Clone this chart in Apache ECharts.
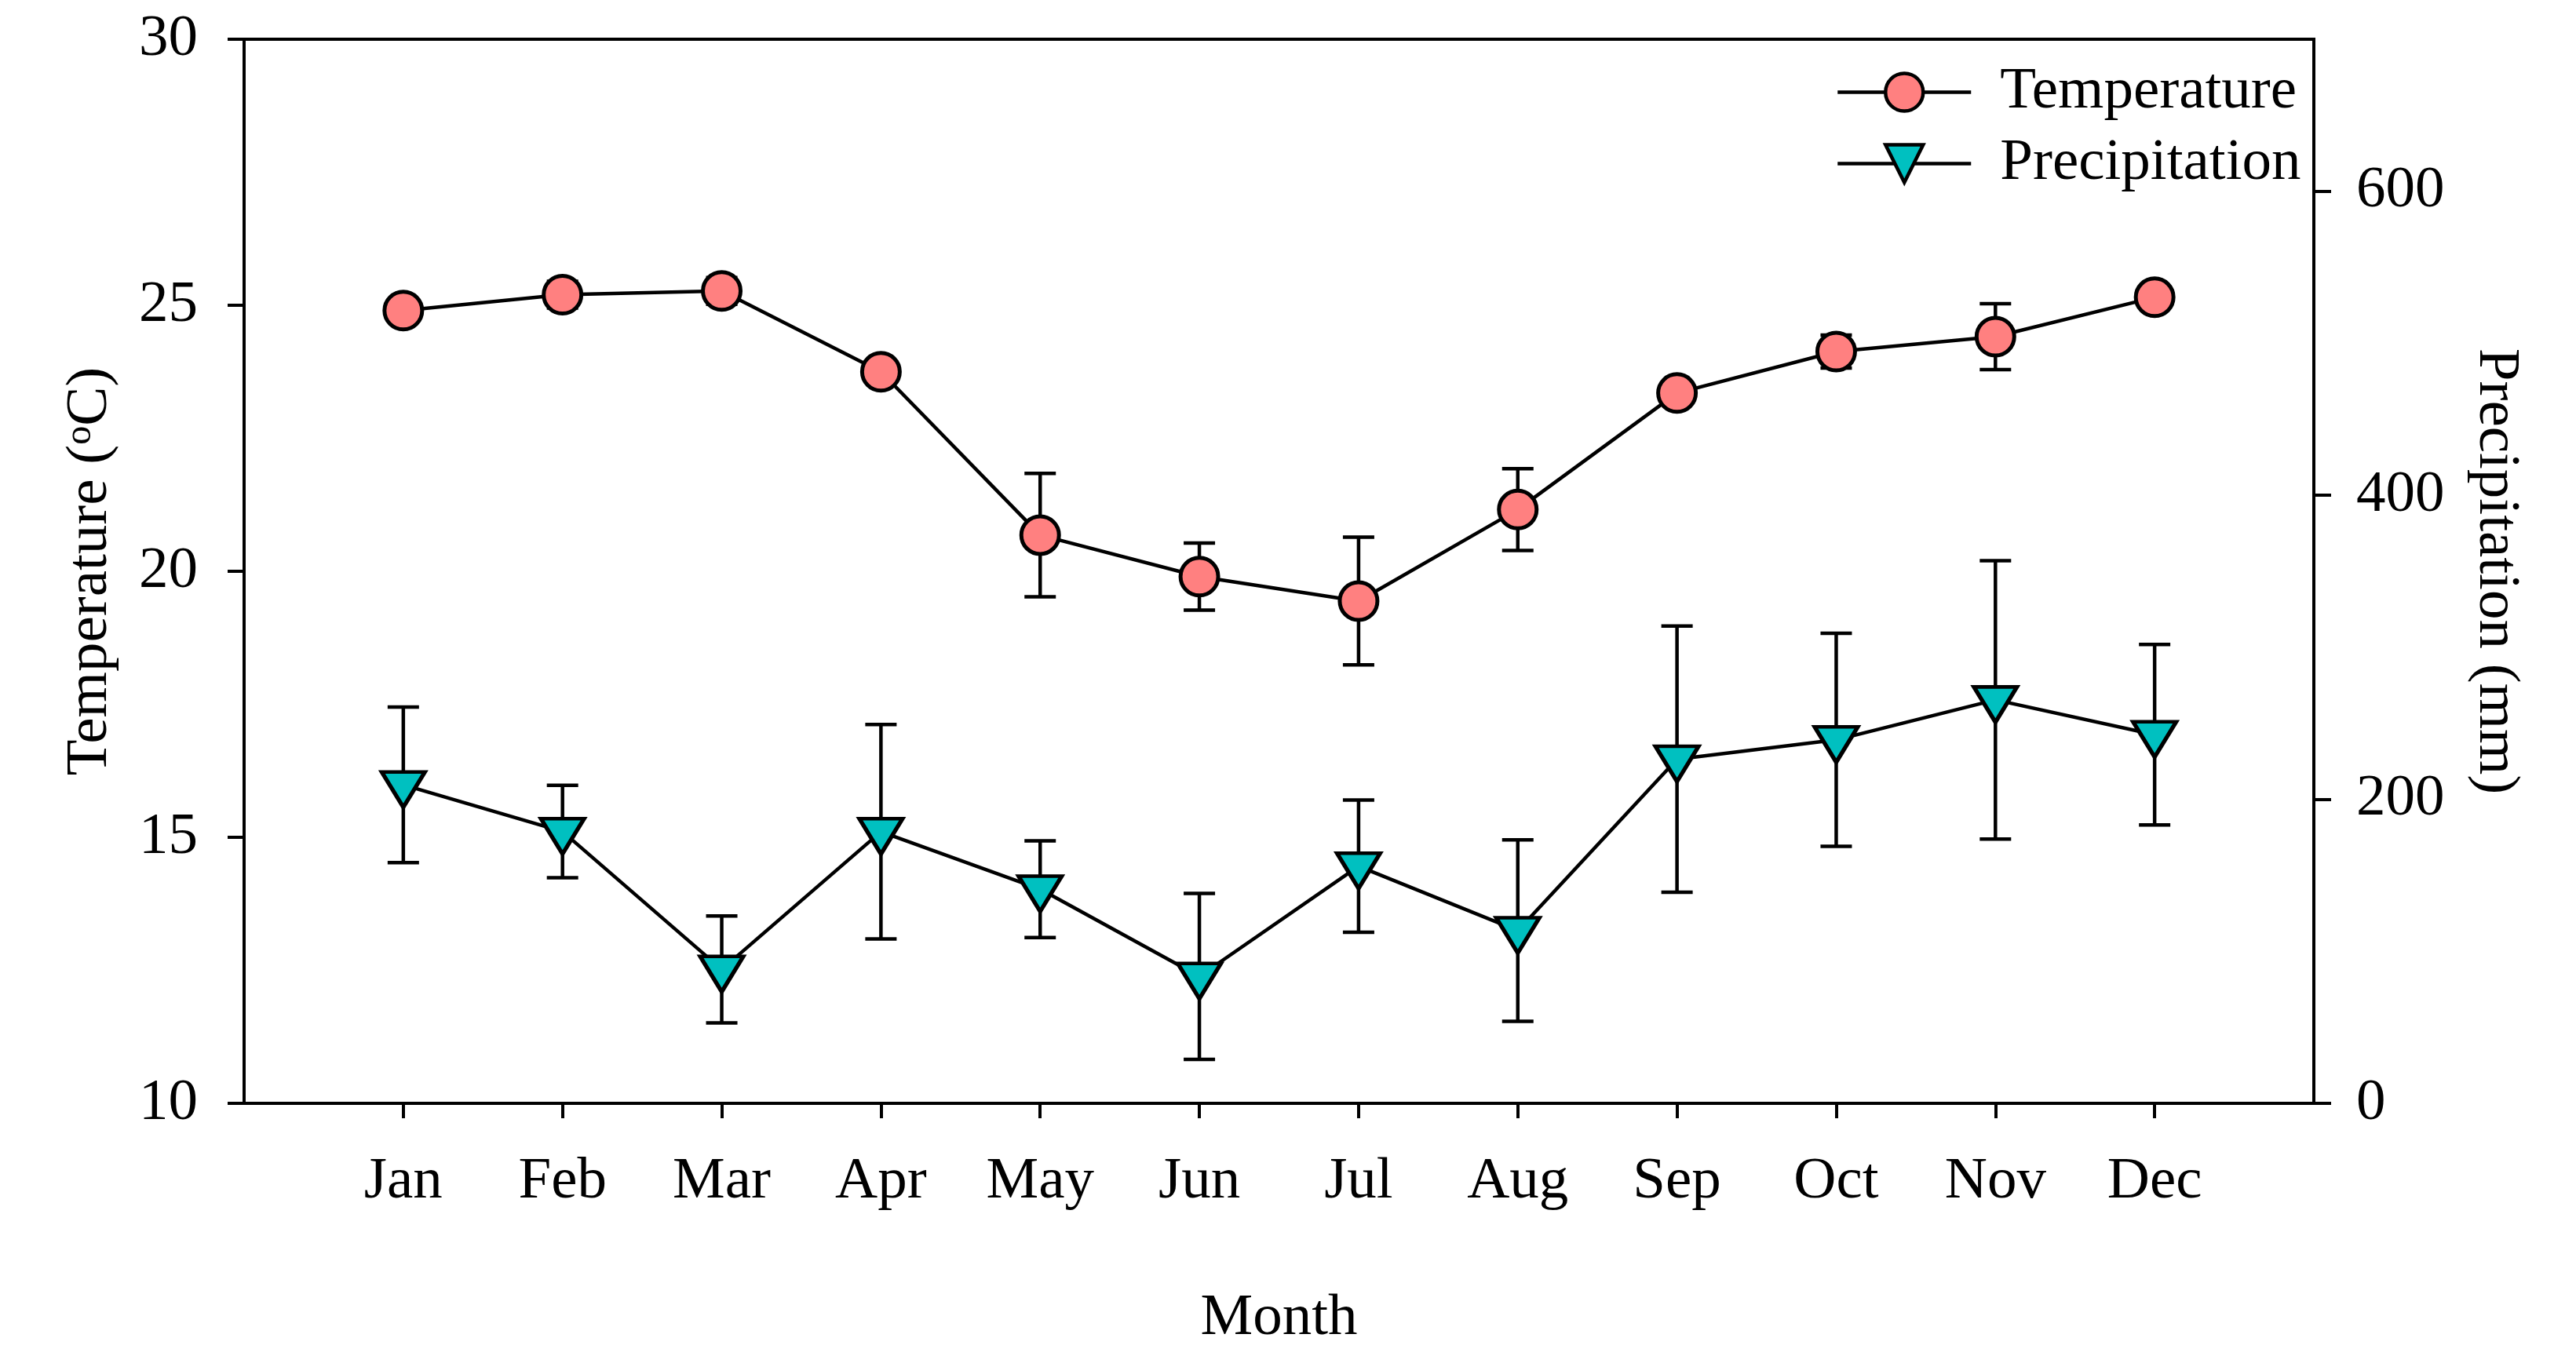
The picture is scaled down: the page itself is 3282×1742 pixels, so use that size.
<!DOCTYPE html>
<html>
<head>
<meta charset="utf-8">
<script src="https://cdn.jsdelivr.net/npm/echarts@6/dist/echarts.min.js"></script>
<style>
html,body{margin:0;padding:0;background:#fff;}
#chart{width:3282px;height:1742px;}
</style>
</head>
<body>
<div id="chart"></div>
<script>
const months = ['Jan','Feb','Mar','Apr','May','Jun','Jul','Aug','Sep','Oct','Nov','Dec'];
const temperature = [24.90, 25.20, 25.27, 23.75, 20.68, 19.90, 19.44, 21.16, 23.35, 24.13, 24.41, 25.15];
const temperatureErr = [0.20, 0.25, 0.25, 0.12, 1.16, 0.63, 1.20, 0.77, 0.12, 0.31, 0.62, 0.10];
const precipitation = [209.5, 178.8, 88.1, 178.7, 140.9, 83.5, 156.0, 113.6, 226.4, 239.1, 265.4, 242.5];
const precipitationErr = [51.2, 30.4, 35.2, 70.5, 31.8, 54.6, 43.5, 59.7, 87.6, 70.1, 91.6, 59.4];
const tempTicks = {min: 10, max: 30, interval: 5};
const precipTickValues = [0, 200, 400, 600];
const precipMax = 700;

const xCats = [''].concat(months).concat([' ']);
const FONT = "'Liberation Serif', 'Times New Roman', serif";
const showCat = (i) => i > 0 && i < xCats.length - 1;

function errRender(params, api) {
  const x = api.value(0);
  const lo = api.coord([x, api.value(1)]);
  const hi = api.coord([x, api.value(2)]);
  const hw = 20;
  const style = {stroke: '#000', lineWidth: 4.5, lineCap: 'butt'};
  return {
    type: 'group',
    children: [
      {type: 'line', shape: {x1: lo[0], y1: lo[1], x2: hi[0], y2: hi[1]}, style: style},
      {type: 'line', shape: {x1: lo[0] - hw, y1: lo[1], x2: lo[0] + hw, y2: lo[1]}, style: style},
      {type: 'line', shape: {x1: hi[0] - hw, y1: hi[1], x2: hi[0] + hw, y2: hi[1]}, style: style}
    ]
  };
}

const chart = echarts.init(document.getElementById('chart'), null, {renderer: 'canvas'});
const axisLine = {show: true, lineStyle: {color: '#000', width: 4}};
const labelStyle = {color: '#000', fontSize: 75, fontFamily: FONT};

chart.setOption({
  animation: false,
  backgroundColor: '#fff',
  grid: {left: 311, right: 334, top: 50, bottom: 336, show: true, borderColor: '#000', borderWidth: 4, containLabel: false},
  legend: {
    orient: 'vertical',
    left: 2334,
    top: 75,
    itemWidth: 170,
    itemHeight: 60,
    itemGap: 16,
    data: ['Temperature', 'Precipitation'],
    lineStyle: {color: '#000', width: 4.5},
    itemStyle: {borderColor: '#000', borderWidth: 4.5},
    textStyle: {color: '#000', fontSize: 75, fontFamily: FONT, lineHeight: 75, padding: [0, 0, 0, 32]}
  },
  xAxis: {
    type: 'category',
    data: xCats,
    boundaryGap: false,
    name: 'Month',
    nameLocation: 'middle',
    nameGap: 237,
    nameTextStyle: labelStyle,
    axisLine: axisLine,
    axisTick: {show: true, inside: false, length: 19, interval: (i) => showCat(i), lineStyle: {color: '#000', width: 4}},
    axisLabel: Object.assign({margin: 63, interval: (i) => showCat(i)}, labelStyle),
    splitLine: {show: false}
  },
  yAxis: [
    {
      type: 'value',
      min: tempTicks.min, max: tempTicks.max, interval: tempTicks.interval,
      name: 'Temperature ({sup|o}C)',
      nameLocation: 'middle',
      nameGap: 158,
      nameTextStyle: Object.assign({rich: {sup: {fontSize: 48, fontFamily: FONT, color: '#000', verticalAlign: 'top', lineHeight: 75}}}, labelStyle),
      axisLine: axisLine,
      axisTick: {show: true, inside: false, length: 21, lineStyle: {color: '#000', width: 4}},
      axisLabel: Object.assign({margin: 59}, labelStyle),
      splitLine: {show: false}
    },
    {
      type: 'value',
      position: 'right',
      min: 0, max: precipMax, interval: 200,
      name: 'Precipitation (mm)',
      nameLocation: 'middle',
      nameRotate: -90,
      nameGap: 194,
      nameTextStyle: labelStyle,
      axisLine: axisLine,
      axisTick: {show: true, inside: false, length: 22, customValues: precipTickValues, lineStyle: {color: '#000', width: 4}},
      axisLabel: Object.assign({margin: 54, customValues: precipTickValues, formatter: (v) => precipTickValues.indexOf(v) >= 0 ? String(v) : ''}, labelStyle),
      splitLine: {show: false}
    }
  ],
  series: [
    {
      name: 'TemperatureErr',
      type: 'custom',
      yAxisIndex: 0,
      z: 1,
      renderItem: errRender,
      encode: {x: 0, y: [1, 2]},
      data: months.map((m, i) => [m, temperature[i] - temperatureErr[i], temperature[i] + temperatureErr[i]])
    },
    {
      name: 'PrecipitationErr',
      type: 'custom',
      yAxisIndex: 1,
      z: 1,
      renderItem: errRender,
      encode: {x: 0, y: [1, 2]},
      data: months.map((m, i) => [m, precipitation[i] - precipitationErr[i], precipitation[i] + precipitationErr[i]])
    },
    {
      name: 'Temperature',
      type: 'line',
      yAxisIndex: 0,
      z: 3,
      data: months.map((m, i) => [m, temperature[i]]),
      symbol: 'circle',
      symbolSize: 48,
      lineStyle: {color: '#000', width: 4.5},
      itemStyle: {color: '#FF8080', borderColor: '#000', borderWidth: 5}
    },
    {
      name: 'Precipitation',
      type: 'line',
      yAxisIndex: 1,
      z: 3,
      data: months.map((m, i) => [m, precipitation[i]]),
      symbol: 'path://M0,0 L11,0 L5.5,9 Z',
      symbolSize: [55, 45],
      symbolOffset: [0, 6],
      symbolKeepAspect: false,
      lineStyle: {color: '#000', width: 4.5},
      itemStyle: {color: '#00C0C0', borderColor: '#000', borderWidth: 5}
    }
  ]
});
</script>
</body>
</html>
